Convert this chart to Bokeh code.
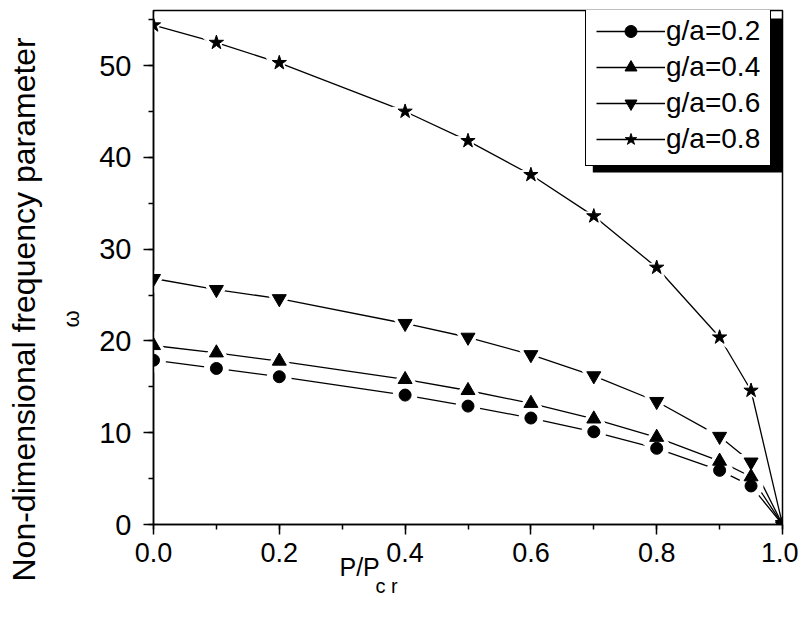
from bokeh.plotting import figure
from bokeh.models import (Range1d, Legend, LegendItem, BoxAnnotation, Title,
                          SingleIntervalTicker, NumeralTickFormatter)
from bokeh.embed import file_html
from bokeh.resources import INLINE

# ---- data ----
load_ratio = [0.0, 0.1, 0.2, 0.4, 0.5, 0.6, 0.7, 0.8, 0.9, 0.95, 1.0]
omega_g02 = [17.9, 17.0, 16.1, 14.1, 12.9, 11.6, 10.1, 8.3, 5.9, 4.2, 0.0]
omega_g04 = [19.5, 18.7, 17.8, 15.8, 14.6, 13.2, 11.5, 9.5, 6.9, 5.2, 0.0]
omega_g06 = [26.8, 25.6, 24.6, 21.9, 20.4, 18.5, 16.2, 13.4, 9.6, 6.8, 0.0]
omega_g08 = [54.4, 52.5, 50.3, 45.0, 41.8, 38.1, 33.6, 28.0, 20.4, 14.6, 0.0]
series_labels = ["g/a=0.2", "g/a=0.4", "g/a=0.6", "g/a=0.8"]
series_values = [omega_g02, omega_g04, omega_g06, omega_g08]
series_markers = ["circle", "triangle", "inverted_triangle", "star"]
series_sizes = [12, 14, 14, 15]

FONT = "Liberation Sans"

p = figure(width=798, height=624, output_backend="svg", toolbar_location=None,
           x_range=Range1d(0, 1), y_range=Range1d(0, 56),
           min_border_left=152, min_border_right=16, min_border_top=10,
           min_border_bottom=100)
p.grid.visible = False
p.background_fill_color = "white"
p.border_fill_color = "white"
p.outline_line_color = "black"
p.outline_line_width = 1.5
p.outline_line_alpha = 1.0

# axes
p.xaxis.ticker = SingleIntervalTicker(interval=0.2, num_minor_ticks=2)
p.yaxis.ticker = SingleIntervalTicker(interval=10, num_minor_ticks=2)
p.xaxis.formatter = NumeralTickFormatter(format="0.0")
for ax in (p.xaxis, p.yaxis):
    ax.axis_line_width = 1.5
    ax.axis_line_color = "black"
    ax.major_tick_line_width = 1.5
    ax.minor_tick_line_width = 1.5
    ax.major_tick_line_color = "black"
    ax.minor_tick_line_color = "black"
    ax.major_tick_in = 0
    ax.major_tick_out = 10
    ax.minor_tick_in = 0
    ax.minor_tick_out = 5
    ax.major_label_text_color = "black"
p.xaxis.major_label_text_font = FONT
p.xaxis.major_label_text_font_size = "27px"
p.xaxis.major_label_standoff = 8
p.yaxis.major_label_text_font = FONT
p.yaxis.major_label_text_font_size = "29px"
p.yaxis.major_label_standoff = 12

# lines
line_rs = []
for vals in series_values:
    line_rs.append(p.line(load_ratio, vals, line_color="black", line_width=1.3))
# white halos to create gaps around markers (all but the end point)
for vals, mk, sz in zip(series_values, series_markers, series_sizes):
    p.scatter(load_ratio[:-1], vals[:-1], marker=mk, size=sz + 12,
              fill_color="white", line_color="white", line_width=1)
# black markers
marker_rs = []
for vals, mk, sz in zip(series_values, series_markers, series_sizes):
    marker_rs.append(p.scatter(load_ratio, vals, marker=mk, size=sz,
                               fill_color="black", line_color="black",
                               line_width=1))

# legend shadow
shadow = BoxAnnotation(left=0.6984, right=1.0, top=55.13, bottom=38.34,
                       fill_color="black", fill_alpha=1.0, line_alpha=0.0)
p.add_layout(shadow)

items = [LegendItem(label=lab, renderers=[lr, mr])
         for lab, lr, mr in zip(series_labels, line_rs, marker_rs)]
legend = Legend(items=items, location=(432, 358), margin=0, padding=10,
                spacing=4, glyph_width=69, glyph_height=30, label_height=30,
                label_width=94, label_standoff=1,
                label_text_font=FONT, label_text_font_size="28px",
                label_text_color="black",
                border_line_color="black", border_line_width=1.5,
                border_line_alpha=1.0,
                background_fill_color="white", background_fill_alpha=1.0)
p.add_layout(legend, "center")

# axis titles (as side-panel titles so they can be offset like the original)
p.add_layout(Title(text="ω", align="left", offset=197, standoff=25,
                   text_font=FONT, text_font_size="22px",
                   text_font_style="normal", text_color="black"), "left")
p.add_layout(Title(text="Non-dimensional frequency parameter", align="left",
                   offset=-57, standoff=6, text_font=FONT,
                   text_font_size="32px", text_font_style="normal",
                   text_color="black"), "left")
p.add_layout(Title(text="P/P", align="left", offset=186, standoff=-32,
                   text_font=FONT, text_font_size="25px",
                   text_font_style="normal", text_color="black"), "below")
p.add_layout(Title(text="c r", align="left", offset=222, standoff=17,
                   text_font=FONT, text_font_size="20px",
                   text_font_style="normal", text_color="black"), "below")

open("out.html", "w").write(file_html(p, INLINE))
